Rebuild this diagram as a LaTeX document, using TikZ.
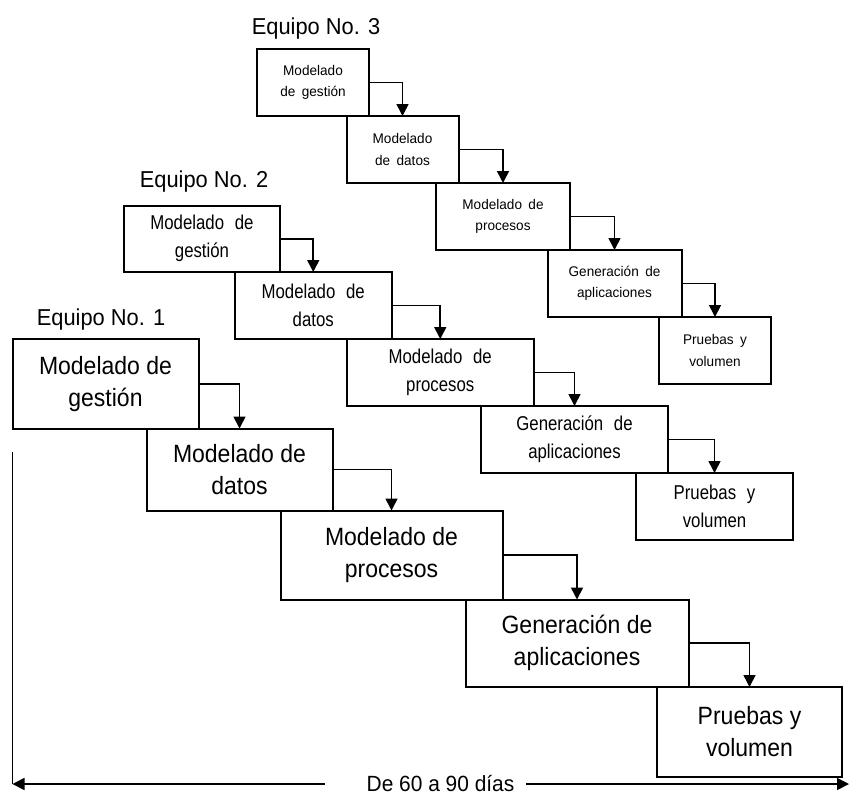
\documentclass[tikz,border=0pt]{standalone}
\usepackage{fontspec}
\setmainfont{Liberation Sans}
\usetikzlibrary{arrows.meta}
\newfontfamily\fone[FakeStretch=0.92]{Liberation Sans}
\newfontfamily\ftwo[FakeStretch=0.84,WordSpace=2.3]{Liberation Sans}
\newfontfamily\fthree[FakeStretch=0.97,WordSpace=1.7]{Liberation Sans}
\newfontfamily\flab[FakeStretch=0.95]{Liberation Sans}
\begin{document}
\begin{tikzpicture}[x=1pt,y=-1pt,
  box/.style={draw, line width=2pt, fill=white, inner sep=0pt, outer sep=0pt, align=center, rectangle},
  tone/.style={box, font=\fone\fontsize{25}{32}\selectfont},
  ttwo/.style={box, font=\ftwo\fontsize{20}{28}\selectfont},
  tthree/.style={box, font=\fthree\fontsize{14}{21.5}\selectfont},
  lab/.style={font=\flab\fontsize{23}{27}\selectfont, inner sep=0pt, anchor=base},
  arr/.style={line width=1.6pt, -{Triangle[length=12pt,width=12pt]}},
]
\useasboundingbox (0,0) rectangle (850,796);

% Team 1
\node[tone, minimum width=186pt, minimum height=89.5pt] (b1) at (105.5,383.75) {Modelado de\\gestión};
\node[tone, minimum width=186pt, minimum height=82pt] (b2) at (239.5,469.5) {Modelado de\\datos};
\node[tone, minimum width=222pt, minimum height=89pt] (b3) at (391.5,555) {Modelado de\\procesos};
\node[tone, minimum width=223pt, minimum height=87.5pt] (b4) at (577,643.25) {Generación de\\aplicaciones};
\node[tone, minimum width=185pt, minimum height=89.5pt] (b5) at (749.5,731.75) {Pruebas y\\volumen};

% Team 2
\node[ttwo, minimum width=156pt, minimum height=66.5pt] (c1) at (202,238.75) {Modelado de\\gestión};
\node[ttwo, minimum width=156.5pt, minimum height=67pt] (c2) at (313.25,305.5) {Modelado de\\datos};
\node[ttwo, minimum width=187.5pt, minimum height=67pt] (c3) at (440.25,372.5) {Modelado de\\procesos};
\node[ttwo, minimum width=187pt, minimum height=67pt] (c4) at (574.5,439.5) {Generación de\\aplicaciones};
\node[ttwo, minimum width=157pt, minimum height=66.5pt] (c5) at (714.5,506.25) {Pruebas y\\volumen};

% Team 3
\node[tthree, minimum width=112pt, minimum height=67pt] (d1) at (313,82.5) {Modelado\\de gestión};
\node[tthree, minimum width=112pt, minimum height=67pt] (d2) at (402.5,149.5) {Modelado\\de datos};
\node[tthree, minimum width=134pt, minimum height=67pt] (d3) at (503,216.5) {Modelado de\\procesos};
\node[tthree, minimum width=134pt, minimum height=67pt] (d4) at (614.5,283.5) {Generación de\\aplicaciones};
\node[tthree, minimum width=112pt, minimum height=67pt] (d5) at (715,350.5) {Pruebas y\\volumen};

% connectors
\foreach \p/\q in {b1/b2,b2/b3,b3/b4,b4/b5,c1/c2,c2/c3,c3/c4,c4/c5,d1/d2,d2/d3,d3/d4,d4/d5}
  \draw[arr] (\p.east) -| (\q.north);

% labels
\node[lab] (e1) at (101,325) {Equipo No. 1};
\node[lab] (e2) at (204,187.3) {Equipo No. 2};
\node[lab] (e3) at (316,34.3) {Equipo No. 3};

% time span
\node[font=\flab\fontsize{22}{26}\selectfont, inner sep=0pt, anchor=base] (span) at (440.5,791.5) {De 60 a 90 días};
\coordinate (vtop) at (12.5,452);
\coordinate (lend) at (12.5,784);
\coordinate (rend) at (849,784);
\coordinate (lgap) at (325,784);
\coordinate (rgap) at (526,784);
\draw[line width=1.6pt] (vtop) -- (lend);
\draw[arr] (lgap) -- (lend);
\draw[arr] (rgap) -- (rend);
\end{tikzpicture}
\end{document}
